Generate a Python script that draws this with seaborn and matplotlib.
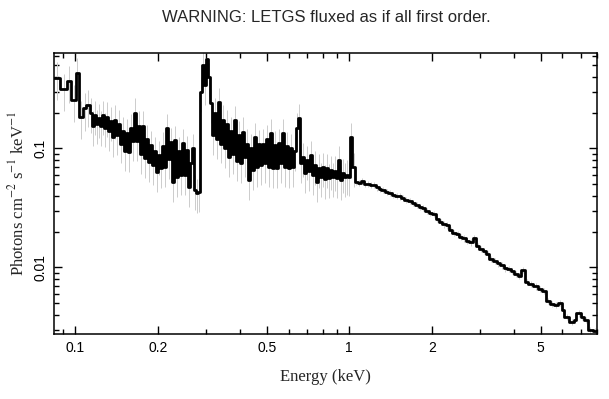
import numpy as np
import pandas as pd
import matplotlib
matplotlib.use("Agg")
import matplotlib.pyplot as plt
import seaborn as sns
from matplotlib.ticker import FixedLocator, FixedFormatter, NullFormatter

# LETGS spectrum: left bin edges (keV) and flux (photons cm^-2 s^-1 keV^-1)
soft_lo = [0.0835, 0.0878, 0.0933, 0.0965, 0.1004, 0.1027, 0.1068, 0.1092]
soft_flux = [0.392, 0.315, 0.368, 0.255, 0.427, 0.184, 0.217, 0.231]

mid_lo = [0.1130, 0.1149, 0.1169, 0.1188, 0.1209, 0.1229, 0.1250, 0.1271, 0.1293, 0.1315,
          0.1337, 0.1360, 0.1383, 0.1406, 0.1430, 0.1454, 0.1479, 0.1504, 0.1529, 0.1555,
          0.1582, 0.1609, 0.1636, 0.1664, 0.1692, 0.1720, 0.1749, 0.1779, 0.1809, 0.1840,
          0.1871, 0.1903, 0.1935, 0.1968, 0.2001, 0.2035, 0.2070, 0.2105, 0.2140, 0.2177,
          0.2214, 0.2252, 0.2290, 0.2329, 0.2368, 0.2408, 0.2449, 0.2490, 0.2533, 0.2576,
          0.2619, 0.2663, 0.2709, 0.2755, 0.2801, 0.2849, 0.2897, 0.2946, 0.2996, 0.3047,
          0.3098, 0.3151, 0.3204, 0.3258, 0.3314, 0.3370, 0.3427, 0.3485, 0.3544, 0.3604,
          0.3666, 0.3728, 0.3791, 0.3856, 0.3921, 0.3987, 0.4055, 0.4123, 0.4193, 0.4264,
          0.4337, 0.4411, 0.4485, 0.4561, 0.4639, 0.4717, 0.4797, 0.4878, 0.4961, 0.5045,
          0.5131, 0.5218, 0.5307, 0.5397, 0.5488, 0.5581, 0.5676, 0.5772, 0.5870, 0.5969,
          0.6071, 0.6174, 0.6279, 0.6385, 0.6493, 0.6603, 0.6715, 0.6829, 0.6945, 0.7063,
          0.7183, 0.7305, 0.7429, 0.7555, 0.7683, 0.7813, 0.7945, 0.8080, 0.8217, 0.8357,
          0.8499, 0.8643, 0.8790, 0.8939, 0.9091, 0.9247, 0.9404, 0.9563, 0.9726, 0.9890,
          1.0059, 1.0270]
mid_flux = [0.20, 0.155, 0.19, 0.16, 0.18, 0.155, 0.19, 0.15, 0.185, 0.14,
            0.17, 0.125, 0.175, 0.13, 0.16, 0.11, 0.14, 0.095, 0.135, 0.093,
            0.148, 0.115, 0.20, 0.115, 0.155, 0.09, 0.155, 0.083, 0.12, 0.077,
            0.107, 0.072, 0.095, 0.063, 0.088, 0.068, 0.105, 0.07, 0.148, 0.082,
            0.113, 0.052, 0.117, 0.057, 0.095, 0.060, 0.111, 0.060, 0.097, 0.047,
            0.075, 0.100, 0.045, 0.042, 0.043, 0.30, 0.50, 0.34, 0.57, 0.40,
            0.24, 0.13, 0.20, 0.12, 0.246, 0.11, 0.175, 0.10, 0.16, 0.085,
            0.14, 0.09, 0.173, 0.078, 0.13, 0.075, 0.138, 0.085, 0.11, 0.054,
            0.10, 0.066, 0.124, 0.07, 0.108, 0.072, 0.11, 0.075, 0.12, 0.07,
            0.134, 0.068, 0.107, 0.068, 0.111, 0.075, 0.134, 0.07, 0.105, 0.068,
            0.10, 0.07, 0.095, 0.15, 0.18, 0.075, 0.084, 0.062, 0.08, 0.064,
            0.088, 0.06, 0.072, 0.052, 0.068, 0.057, 0.07, 0.055, 0.068, 0.056,
            0.066, 0.057, 0.065, 0.056, 0.080, 0.054, 0.062, 0.057, 0.060, 0.058,
            0.125, 0.070]

hard_lo = [1.049, 1.075, 1.10, 1.13, 1.16, 1.19, 1.22, 1.25, 1.28, 1.31, 1.35, 1.39,
           1.43, 1.47, 1.51, 1.55, 1.59, 1.64, 1.69, 1.74, 1.79, 1.84, 1.89, 1.95,
           2.01, 2.07, 2.13, 2.19, 2.25, 2.31, 2.38, 2.45, 2.52, 2.59, 2.66, 2.74,
           2.82, 2.90, 2.98, 3.07, 3.16, 3.25, 3.35, 3.45, 3.55, 3.66, 3.77, 3.88,
           4.00, 4.12, 4.25, 4.38, 4.51, 4.70, 4.90, 5.05, 5.24, 5.42, 5.60, 5.78,
           6.00, 6.10, 6.35, 6.62, 6.75, 7.00, 7.20, 7.45, 7.75]
hard_flux = [0.0525, 0.0515, 0.0530, 0.0505, 0.0500, 0.0490, 0.0495, 0.0470, 0.0455,
             0.0450, 0.0430, 0.0420, 0.0405, 0.0400, 0.0395, 0.0385, 0.0370, 0.0360,
             0.0350, 0.0335, 0.0320, 0.0315, 0.0300, 0.0285, 0.0280, 0.0255, 0.0240,
             0.0230, 0.0225, 0.0205, 0.0195, 0.0190, 0.0180, 0.0175, 0.0168, 0.0162,
             0.0176, 0.0150, 0.0143, 0.0138, 0.0130, 0.0118, 0.0113, 0.0108, 0.0104,
             0.0098, 0.0097, 0.0094, 0.0088, 0.0085, 0.0095, 0.0076, 0.0073, 0.0069,
             0.0066, 0.0063, 0.0052, 0.0049, 0.0048, 0.0050, 0.0044, 0.0038, 0.0035,
             0.0036, 0.0041, 0.0038, 0.0036, 0.0030, 0.0029]
e_max = 8.10

# rough fractional 1-sigma errors in each band
rel_err = [0.35, 0.32, 0.06]

edges = np.array(soft_lo + mid_lo + hard_lo + [e_max])
flux = np.array(soft_flux + mid_flux + hard_flux)
err = np.concatenate([np.full(len(soft_flux), rel_err[0]),
                      np.full(len(mid_flux), rel_err[1]),
                      np.full(len(hard_flux), rel_err[2])]) * flux
centers = np.sqrt(edges[:-1] * edges[1:])

sns.set_style("ticks")
plt.rcParams['font.family'] = ['Liberation Sans', 'DejaVu Sans']
plt.rcParams['mathtext.fontset'] = 'stix'
plt.rcParams['path.simplify'] = False  # keep every step of the dense bins

fig = plt.figure(figsize=(6.09, 3.99), dpi=100)
ax = fig.add_axes([0.0887, 0.1629, 0.9803 - 0.0887, 0.8672 - 0.1629])

ax.vlines(centers, flux - err, flux + err, color='#cccccc', lw=0.7, zorder=1)

df = pd.DataFrame({'energy': edges, 'flux': np.append(flux, flux[-1])})
sns.lineplot(data=df, x='energy', y='flux', ax=ax, color='black', lw=2,
             drawstyle='steps-post', estimator=None, sort=False, zorder=2)

ax.set_xscale('log')
ax.set_yscale('log')
ax.set_xlim(0.0835, 8.03)
ax.set_ylim(0.00275, 0.635)

ax.xaxis.set_major_locator(FixedLocator([0.1, 0.2, 0.5, 1, 2, 5]))
ax.xaxis.set_major_formatter(FixedFormatter(['0.1', '0.2', '0.5', '1', '2', '5']))
ax.xaxis.set_minor_locator(FixedLocator([0.09, 0.3, 0.4, 0.6, 0.7, 0.8, 0.9, 3, 4, 6, 7, 8]))
ax.xaxis.set_minor_formatter(NullFormatter())
ax.yaxis.set_major_locator(FixedLocator([0.01, 0.1]))
ax.yaxis.set_major_formatter(FixedFormatter(['0.01', '0.1']))
ax.yaxis.set_minor_locator(FixedLocator([0.003, 0.004, 0.005, 0.006, 0.007, 0.008, 0.009,
                                         0.02, 0.03, 0.04, 0.05, 0.06, 0.07, 0.08, 0.09,
                                         0.2, 0.3, 0.4, 0.5, 0.6]))
ax.yaxis.set_minor_formatter(NullFormatter())

ax.tick_params(which='both', direction='in', top=True, right=True, width=1, colors='black')
ax.tick_params(which='major', length=6, labelsize=10, pad=5)
ax.tick_params(which='minor', length=3.5)
for lab in ax.get_yticklabels():
    lab.set_rotation(90)
    lab.set_va('center')
for s in ax.spines.values():
    s.set_linewidth(1.1)
    s.set_color('black')

ax.set_xlabel('Energy (keV)', family=['Liberation Serif'], fontsize=12, labelpad=10)
ax.set_ylabel('Photons cm$^{-2}$ s$^{-1}$ keV$^{-1}$', family=['Liberation Serif'],
              fontsize=12, labelpad=4)
fig.text(0.535, 0.955, 'WARNING: LETGS fluxed as if all first order.', ha='center',
         va='center', fontsize=12)

fig.savefig('out.png', dpi=100)
